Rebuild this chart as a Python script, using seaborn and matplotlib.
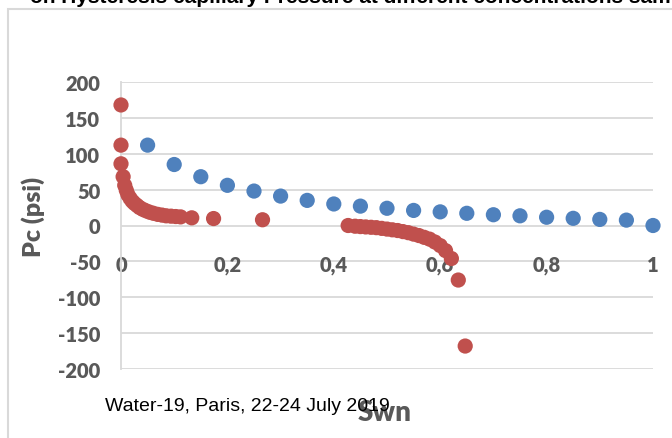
import numpy as np
import pandas as pd
import matplotlib.pyplot as plt
import seaborn as sns

# Blue series (drainage)
swn_blue = [0.05, 0.10, 0.15, 0.20, 0.25, 0.30, 0.35, 0.40, 0.45, 0.50,
            0.55, 0.60, 0.65, 0.70, 0.75, 0.80, 0.85, 0.90, 0.95, 1.00]
pc_blue = [112, 85, 68, 56, 48, 41, 35, 30, 27, 24,
           21, 19, 17, 15, 13.5, 11.5, 10, 8.5, 7.5, 0]

# Red series (imbibition)
swn_red = [0, 0, 0, 0.004, 0.007, 0.010, 0.013, 0.017, 0.021, 0.025, 0.030,
           0.035, 0.041, 0.047, 0.054, 0.061, 0.069, 0.077, 0.085, 0.094,
           0.103, 0.112, 0.133, 0.174, 0.266,
           0.427, 0.44, 0.45, 0.46, 0.47, 0.48, 0.49, 0.50, 0.51, 0.52, 0.53,
           0.54, 0.55, 0.56, 0.57, 0.58, 0.59, 0.60, 0.61, 0.621, 0.634, 0.647]
pc_red = [168, 112, 86, 68, 56, 49, 43, 38, 34, 31, 28,
          25, 22.5, 20.5, 18.5, 17, 15.5, 14.5, 13.5, 13,
          12.5, 12, 10.7, 9.7, 8,
          0, -1, -1.5, -2, -2.5, -3, -4, -5, -6, -7, -8.5,
          -10, -12, -14, -16.5, -19, -23, -28, -35, -46, -76, -168]

y_ticks = [-200, -150, -100, -50, 0, 50, 100, 150, 200]
y_labels = ["-200", "-150", "-100", "-50", "0", "50", "100", "150", "200"]
x_ticks = [0, 0.2, 0.4, 0.6, 0.8, 1]
x_labels = ["0", "0,2", "0,4", "0,6", "0,8", "1"]

df = pd.concat([
    pd.DataFrame({"Swn": swn_blue, "Pc": pc_blue, "series": "drainage"}),
    pd.DataFrame({"Swn": swn_red, "Pc": pc_red, "series": "imbibition"}),
])

sns.set_style("white")
plt.rcParams["font.family"] = ["Lato", "DejaVu Sans"]

fig = plt.figure(figsize=(6.72, 4.39), dpi=100)
ax = fig.add_axes([121 / 672, 1 - 370 / 439, 532 / 672, 287 / 439])

# horizontal gridlines under everything
for yv in y_ticks:
    ax.axhline(yv, color="#D9D9D9", lw=1.3, zorder=0.1)

sns.scatterplot(data=df, x="Swn", y="Pc", hue="series",
                palette={"drainage": "#4F81BD", "imbibition": "#C0504D"},
                s=120, linewidth=0, legend=False, ax=ax, clip_on=False, zorder=3)

ax.set_xlim(0, 1)
ax.set_ylim(-200, 200)
ax.set_yticks(y_ticks, labels=y_labels)
ax.set_xticks(x_ticks, labels=x_labels)
ax.grid(False)
ax.set_axisbelow(True)
for s in ["top", "right"]:
    ax.spines[s].set_visible(False)
ax.spines["left"].set_color("#D9D9D9")
ax.spines["left"].set_linewidth(1.3)
ax.spines["bottom"].set_position(("data", 0))
ax.spines["bottom"].set_visible(False)
ax.tick_params(axis="y", length=0, pad=15, labelsize=14.5, labelcolor="#595959")
ax.tick_params(axis="x", length=0, pad=21, labelsize=14.5, labelcolor="#595959")
plt.setp(ax.get_xticklabels() + ax.get_yticklabels(), fontweight="heavy")
ax.set_xlabel("")
ax.set_ylabel("")

fig.text(33 / 672, 1 - 217 / 439, "Pc (psi)", rotation=90, ha="center", va="center",
         fontsize=18, fontweight="heavy", color="#595959")
fig.text(385 / 672, 1 - 413 / 439, "Swn", ha="center", va="center",
         fontsize=20, fontweight="heavy", color="#595959")
fig.text(105 / 672, 1 - 407 / 439, "Water-19, Paris, 22-24 July 2019", ha="left", va="center",
         fontsize=14, color="black", family=["Liberation Sans", "DejaVu Sans"])

# chart border frame
fig.patches.append(plt.Rectangle((8 / 672, -0.05), 1.0, 1 - 10 / 439 + 0.05, transform=fig.transFigure,
                                 fill=False, edgecolor="#D9D9D9", lw=1.5))

# cut-off slide title at the very top
fig.text(0.045, 1 - 3 / 439, "on Hysteresis capillary Pressure at different concentrations samples",
         ha="left", va="baseline", fontsize=15, fontweight="bold", color="black",
         family=["Liberation Sans", "DejaVu Sans"])

fig.savefig("out.png", dpi=100)
